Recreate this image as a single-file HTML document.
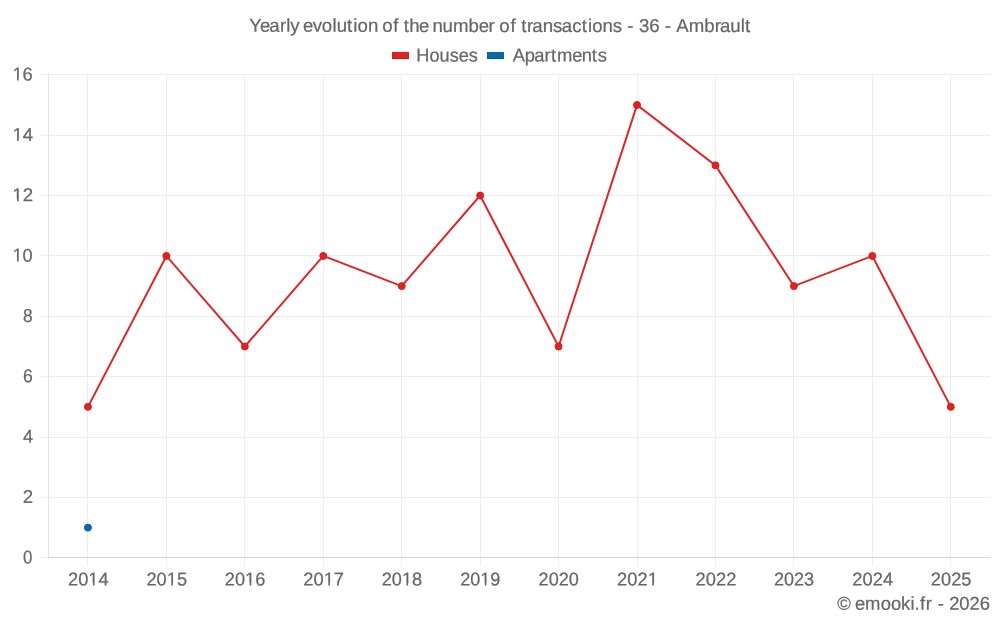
<!DOCTYPE html>
<html lang="en"><head><meta charset="utf-8"><title>Yearly evolution of the number of transactions - 36 - Ambrault</title>
<style>
html,body{margin:0;padding:0;background:#fff;}
body{width:1000px;height:625px;overflow:hidden;font-family:"Liberation Sans",sans-serif;}
svg{display:block;}
text{font-family:"Liberation Sans",sans-serif;fill:#666666;stroke:#666666;stroke-width:0.22px;text-rendering:geometricPrecision;}
.k{font-size:18.6px;}
</style></head><body>
<svg width="1000" height="625" viewBox="0 0 1000 625">
<rect width="1000" height="625" fill="#fff"/>
<defs><clipPath id="c0" clipPathUnits="userSpaceOnUse"><path d="M-5.00,-25H25.69V-2.39H-5.00ZM-5.00,-2.89H-0.30V6H-5.00ZM4.68,-2.89H6.32V6H4.68ZM10.54,-2.89H25.69V6H10.54Z"/></clipPath><clipPath id="c1" clipPathUnits="userSpaceOnUse"><path d="M-5.00,-25H46.38V-2.39H-5.00ZM-5.00,-2.89H20.39V6H-5.00ZM25.37,-2.89H27.01V6H25.37ZM31.23,-2.89H46.38V6H31.23Z"/></clipPath><clipPath id="c2" clipPathUnits="userSpaceOnUse"><path d="M-5.00,-25H46.38V-2.39H-5.00ZM-5.00,-2.89H30.73V6H-5.00ZM35.71,-2.89H37.35V6H35.71ZM41.58,-2.89H46.38V6H41.58Z"/></clipPath></defs>
<g stroke="#ededed" stroke-width="1">
<line x1="40.7" y1="557.5" x2="990.45" y2="557.5"/>
<line x1="40.7" y1="497.5" x2="990.45" y2="497.5"/>
<line x1="40.7" y1="437.5" x2="990.45" y2="437.5"/>
<line x1="40.7" y1="376.5" x2="990.45" y2="376.5"/>
<line x1="40.7" y1="316.5" x2="990.45" y2="316.5"/>
<line x1="40.7" y1="255.5" x2="990.45" y2="255.5"/>
<line x1="40.7" y1="195.5" x2="990.45" y2="195.5"/>
<line x1="40.7" y1="135.5" x2="990.45" y2="135.5"/>
<line x1="40.7" y1="74.5" x2="990.45" y2="74.5"/>
<line x1="87.5" y1="74" x2="87.5" y2="565.8"/>
<line x1="166.5" y1="74" x2="166.5" y2="565.8"/>
<line x1="244.5" y1="74" x2="244.5" y2="565.8"/>
<line x1="323.5" y1="74" x2="323.5" y2="565.8"/>
<line x1="401.5" y1="74" x2="401.5" y2="565.8"/>
<line x1="480.5" y1="74" x2="480.5" y2="565.8"/>
<line x1="558.5" y1="74" x2="558.5" y2="565.8"/>
<line x1="637.5" y1="74" x2="637.5" y2="565.8"/>
<line x1="715.5" y1="74" x2="715.5" y2="565.8"/>
<line x1="793.5" y1="74" x2="793.5" y2="565.8"/>
<line x1="872.5" y1="74" x2="872.5" y2="565.8"/>
<line x1="950.5" y1="74" x2="950.5" y2="565.8"/>
</g>
<g stroke-width="1">
<line x1="48.5" y1="74" x2="48.5" y2="558" stroke="#e4e4e4"/>
<line x1="48" y1="557.5" x2="990.45" y2="557.5" stroke="#d5d5d5"/>
<rect x="48" y="557" width="1" height="1" fill="#c9c9c9"/>
</g>
<polyline points="87.95,406.86 166.39,255.93 244.83,346.49 323.27,255.93 401.71,286.11 480.15,195.55 558.59,346.49 637.03,104.99 715.47,165.36 793.91,286.11 872.35,255.93 950.79,406.86" fill="none" stroke="#dc2626" stroke-width="2" stroke-linejoin="miter"/>
<circle cx="87.95" cy="406.86" r="3.5" fill="#db2525" stroke="#dc1c1c" stroke-width="1"/>
<circle cx="166.39" cy="255.93" r="3.5" fill="#db2525" stroke="#dc1c1c" stroke-width="1"/>
<circle cx="244.83" cy="346.49" r="3.5" fill="#db2525" stroke="#dc1c1c" stroke-width="1"/>
<circle cx="323.27" cy="255.93" r="3.5" fill="#db2525" stroke="#dc1c1c" stroke-width="1"/>
<circle cx="401.71" cy="286.11" r="3.5" fill="#db2525" stroke="#dc1c1c" stroke-width="1"/>
<circle cx="480.15" cy="195.55" r="3.5" fill="#db2525" stroke="#dc1c1c" stroke-width="1"/>
<circle cx="558.59" cy="346.49" r="3.5" fill="#db2525" stroke="#dc1c1c" stroke-width="1"/>
<circle cx="637.03" cy="104.99" r="3.5" fill="#db2525" stroke="#dc1c1c" stroke-width="1"/>
<circle cx="715.47" cy="165.36" r="3.5" fill="#db2525" stroke="#dc1c1c" stroke-width="1"/>
<circle cx="793.91" cy="286.11" r="3.5" fill="#db2525" stroke="#dc1c1c" stroke-width="1"/>
<circle cx="872.35" cy="255.93" r="3.5" fill="#db2525" stroke="#dc1c1c" stroke-width="1"/>
<circle cx="950.79" cy="406.86" r="3.5" fill="#db2525" stroke="#dc1c1c" stroke-width="1"/>
<circle cx="87.95" cy="527.61" r="3.5" fill="#066aa6" stroke="#0463a0" stroke-width="1"/>
<g shape-rendering="crispEdges"><rect x="392" y="52" width="17" height="7" fill="#db2525"/><rect x="392" y="52" width="1" height="7" fill="#d81414"/><rect x="392" y="58" width="17" height="1" fill="#d81212"/>
<rect x="487" y="52" width="17" height="7" fill="#066aa6"/><rect x="487" y="52" width="1" height="7" fill="#04629f"/><rect x="503" y="52" width="1" height="7" fill="#04629f"/><rect x="487" y="58" width="17" height="1" fill="#025d9b"/></g>
<text transform="matrix(1.0019,0.0005,0,1,249.13,31.8)" x="0.00 10.88 20.18 30.75 37.07 41.01 50.31 53.75 63.40 72.51 83.12 87.35 97.70 103.86 108.24 118.60 128.94 132.83 143.93 149.10 154.44 159.85 169.44 179.79 182.91 192.96 203.38 219.05 229.09 239.01 245.20 249.75 260.75 265.91 271.51 277.43 282.60 292.99 303.29 311.97 322.57 332.07 338.16 342.44 352.65 362.95 372.25 377.34 383.53 389.04 399.31 409.66 414.86 421.06 426.34 438.70 454.38 464.69 469.86 480.25 490.59 494.92" font-size="18.6">Yearly evolution of the number of transactions - 36 - Ambrault</text>
<text transform="matrix(0.9766,0.0005,0,1,416.31,61.4)" x="0.00 13.45 23.85 34.31 43.55 53.72" font-size="18.6">Houses</text>
<text transform="matrix(0.9885,0.0005,0,1,512.86,61.4)" x="0.00 11.96 21.55 32.03 38.61 44.71 60.08 69.76 79.93 85.90" font-size="18.6">Apartments</text>
<text transform="matrix(0.9909,0.0005,0,1,837.36,609.8)" x="0.00 13.70 17.92 28.00 43.72 54.07 64.34 73.78 77.74 83.51 89.12 95.31 101.34 107.53 112.86 123.01 133.33 143.59" font-size="18.6">© emooki.fr - 2026</text>
<text transform="matrix(0.9061,0.0005,0,1,23.12,563.5)" font-size="18.6">0</text>
<text transform="matrix(1.0075,0.0005,0,1,22.67,503.12)" font-size="18.6">2</text>
<text transform="matrix(0.9751,0.0005,0,1,22.89,442.75)" font-size="18.6">4</text>
<text transform="matrix(0.9455,0.0005,0,1,23.07,382.37)" font-size="18.6">6</text>
<text transform="matrix(0.9311,0.0005,0,1,23.09,322.0)" font-size="18.6">8</text>
<text transform="matrix(0.9778,0.0005,0,1,12.42,261.62)" font-size="18.6" clip-path="url(#c0)">10</text>
<text transform="matrix(1.0074,0.0005,0,1,12.37,201.25)" font-size="18.6" clip-path="url(#c0)">12</text>
<text transform="matrix(1.0017,0.0005,0,1,12.38,140.88)" font-size="18.6" clip-path="url(#c0)">14</text>
<text transform="matrix(0.9866,0.0005,0,1,12.40,80.5)" font-size="18.6" clip-path="url(#c0)">16</text>
<text transform="matrix(0.9858,0.0005,0,1,67.97,585.6)" font-size="18.6" clip-path="url(#c1)">2014</text>
<text transform="matrix(0.9826,0.0005,0,1,146.42,585.6)" font-size="18.6" clip-path="url(#c1)">2015</text>
<text transform="matrix(0.9788,0.0005,0,1,224.86,585.6)" font-size="18.6" clip-path="url(#c1)">2016</text>
<text transform="matrix(0.9855,0.0005,0,1,303.29,585.6)" font-size="18.6" clip-path="url(#c1)">2017</text>
<text transform="matrix(0.9758,0.0005,0,1,381.74,585.6)" font-size="18.6" clip-path="url(#c1)">2018</text>
<text transform="matrix(0.9708,0.0005,0,1,460.19,585.6)" font-size="18.6" clip-path="url(#c1)">2019</text>
<text transform="matrix(0.9748,0.0005,0,1,538.62,585.6)" font-size="18.6">2020</text>
<text transform="matrix(0.9864,0.0005,0,1,617.05,585.6)" font-size="18.6" clip-path="url(#c2)">2021</text>
<text transform="matrix(0.9883,0.0005,0,1,695.49,585.6)" font-size="18.6">2022</text>
<text transform="matrix(0.9710,0.0005,0,1,773.95,585.6)" font-size="18.6">2023</text>
<text transform="matrix(0.9858,0.0005,0,1,852.37,585.6)" font-size="18.6">2024</text>
<text transform="matrix(0.9826,0.0005,0,1,930.82,585.6)" font-size="18.6">2025</text>
</svg></body></html>
